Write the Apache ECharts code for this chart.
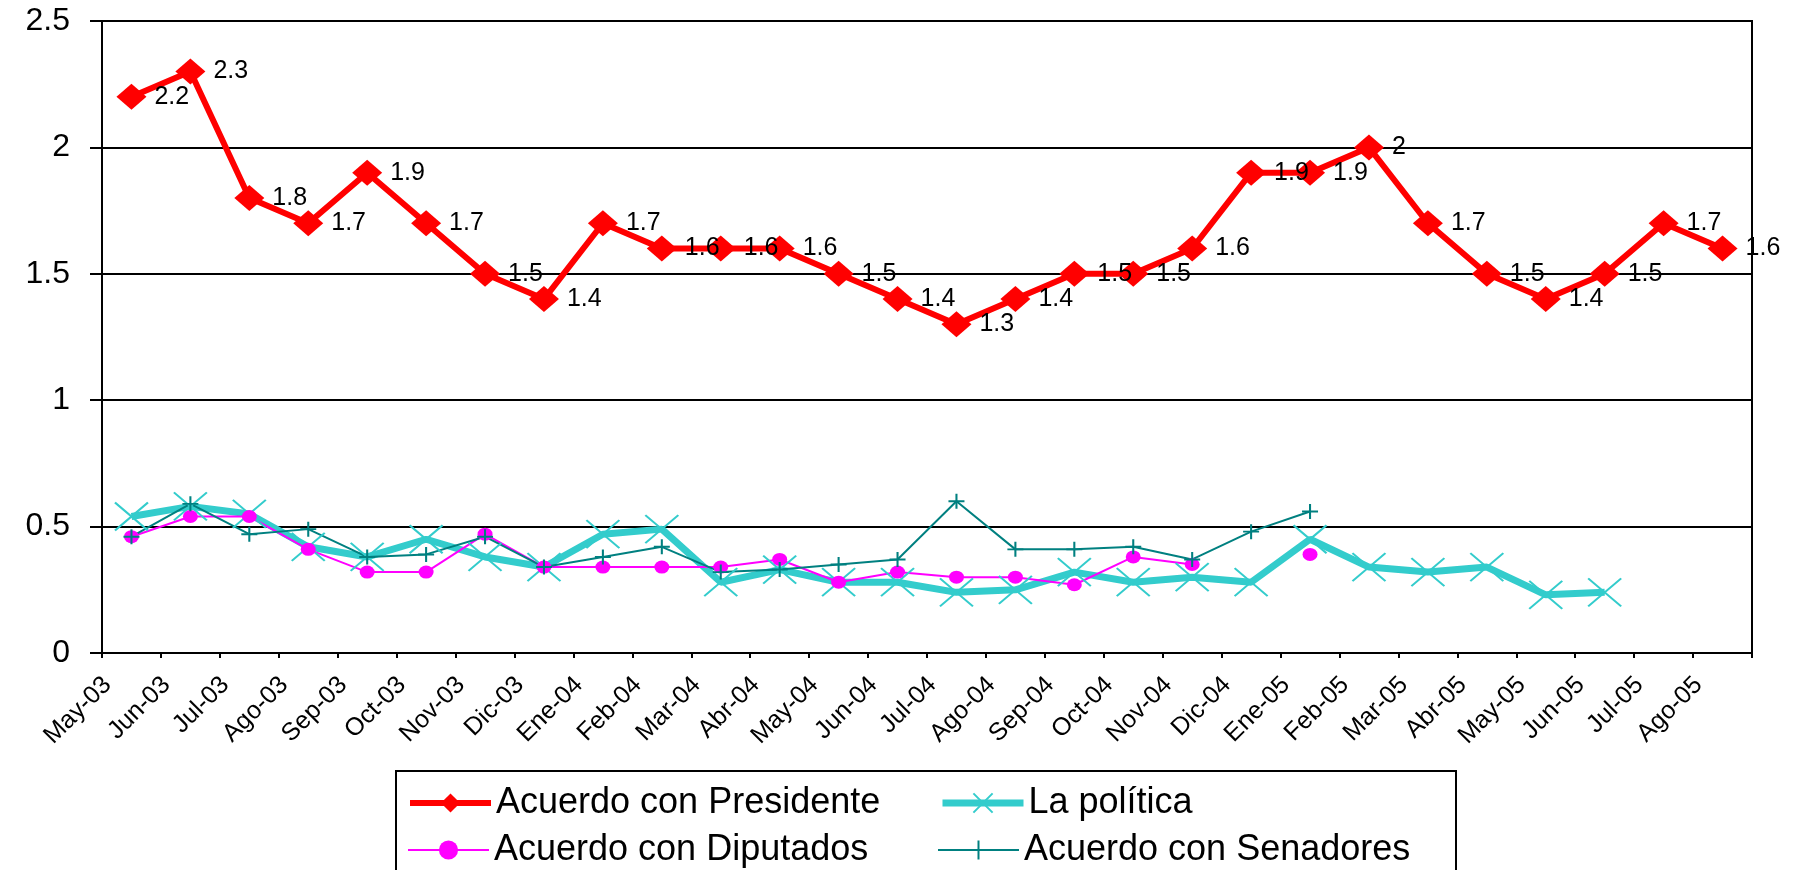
<!DOCTYPE html>
<html>
<head>
<meta charset="utf-8">
<script src="https://cdn.jsdelivr.net/npm/echarts@6/dist/echarts.min.js"></script>
<style>
html,body{margin:0;padding:0;background:#fff;}
#chart{width:1795px;height:870px;}
</style>
</head>
<body>
<div id="chart"></div>
<script>
var categories = ['May-03','Jun-03','Jul-03','Ago-03','Sep-03','Oct-03','Nov-03','Dic-03','Ene-04','Feb-04','Mar-04','Abr-04','May-04','Jun-04','Jul-04','Ago-04','Sep-04','Oct-04','Nov-04','Dic-04','Ene-05','Feb-05','Mar-05','Abr-05','May-05','Jun-05','Jul-05','Ago-05'];
var presidente = [2.2,2.3,1.8,1.7,1.9,1.7,1.5,1.4,1.7,1.6,1.6,1.6,1.5,1.4,1.3,1.4,1.5,1.5,1.6,1.9,1.9,2,1.7,1.5,1.4,1.5,1.7,1.6];
var politica = [0.54,0.58,0.55,0.42,0.38,0.45,0.38,0.34,0.47,0.49,0.28,0.33,0.28,0.28,0.24,0.25,0.32,0.28,0.30,0.28,0.45,0.34,0.32,0.34,0.23,0.24,null,null];
var diputados = [0.46,0.54,0.54,0.41,0.32,0.32,0.47,0.34,0.34,0.34,0.34,0.37,0.28,0.32,0.30,0.30,0.27,0.38,0.35,null,0.39,null,null,null,null,null,null,null];
var senadores = [0.46,0.59,0.47,0.49,0.38,0.39,0.46,0.34,0.38,0.42,0.32,0.33,0.35,0.37,0.60,0.41,0.41,0.42,0.37,0.48,0.56,null,null,null,null,null,null,null];
var yTicks = [0, 0.5, 1, 1.5, 2, 2.5];
var seriesNames = ['Acuerdo con Presidente','La política','Acuerdo con Diputados','Acuerdo con Senadores'];

var FONT = "'Liberation Sans', Arial, sans-serif";
var X_PATH = 'path://M0,0L10,10M10,0L0,10';
var PLUS_PATH = 'path://M5,0L5,10M0,5L10,5';

function legendRow(names, widths, top) {
  return {
    data: names.map(function(n, i){ return {name: n, lineStyle: {width: widths[i]}}; }),
    left: 407, top: top, padding: 0,
    itemWidth: 81, itemHeight: 24, itemGap: 25,
    formatter: function(name){ return '{a|' + name + '}'; },
    textStyle: {color: '#000', fontSize: 36, lineHeight: 24, fontFamily: FONT,
      rich: {a: {width: 418, fontSize: 36, lineHeight: 24, color: '#000', fontFamily: FONT}}}
  };
}

var chart = echarts.init(document.getElementById('chart'));
chart.setOption({
  backgroundColor: '#ffffff',
  animation: false,
  textStyle: {fontFamily: FONT},
  grid: {left: 102, right: 43, top: 21, bottom: 217, show: true, borderColor: '#000', borderWidth: 2},
  xAxis: {
    type: 'category', data: categories, boundaryGap: true,
    axisLine: {lineStyle: {color: '#000', width: 2}},
    axisTick: {show: true, interval: 0, length: 5, lineStyle: {color: '#000', width: 2}},
    axisLabel: {interval: 0, rotate: 45, margin: 4, padding: [0, 34, 0, 0], fontSize: 25, color: '#000', fontFamily: FONT}
  },
  yAxis: {
    type: 'value', min: yTicks[0], max: yTicks[yTicks.length-1], interval: yTicks[1]-yTicks[0],
    axisLine: {show: true, lineStyle: {color: '#000', width: 2}},
    axisTick: {show: true, length: 12, lineStyle: {color: '#000', width: 2}},
    splitLine: {show: true, lineStyle: {color: '#000', width: 2}},
    axisLabel: {margin: 32, fontSize: 32, color: '#000', fontFamily: FONT}
  },
  graphic: [{
    type: 'rect', silent: true, z: 100,
    shape: {x: 396, y: 771, width: 1060, height: 130},
    style: {fill: 'none', stroke: '#000', lineWidth: 2}
  }],
  legend: [
    legendRow([seriesNames[0], seriesNames[1]], [6, 7], 785),
    legendRow([seriesNames[2], seriesNames[3]], [2, 2], 832)
  ],
  series: [
    {
      name: seriesNames[0], type: 'line', data: presidente,
      symbol: 'diamond', symbolSize: [30, 26], showAllSymbol: true,
      lineStyle: {width: 6, color: '#FF0000'},
      itemStyle: {color: '#FF0000'},
      label: {show: true, position: 'right', distance: 8, fontSize: 25, color: '#000', fontFamily: FONT}
    },
    {
      name: seriesNames[1], type: 'line', data: politica,
      symbol: X_PATH, symbolSize: [33, 28], showAllSymbol: true,
      lineStyle: {width: 7, color: '#33CCCC'},
      itemStyle: {color: '#33CCCC', borderColor: '#33CCCC', borderWidth: 2}
    },
    {
      name: seriesNames[2], type: 'line', data: diputados,
      symbol: 'circle', symbolSize: [15, 13], showAllSymbol: true,
      lineStyle: {width: 2, color: '#FF00FF'},
      itemStyle: {color: '#FF00FF'}
    },
    {
      name: seriesNames[3], type: 'line', data: senadores,
      symbol: PLUS_PATH, symbolSize: [16, 15], showAllSymbol: true,
      lineStyle: {width: 2, color: '#008080'},
      itemStyle: {color: '#008080', borderColor: '#008080', borderWidth: 2}
    }
  ]
});
</script>
</body>
</html>
